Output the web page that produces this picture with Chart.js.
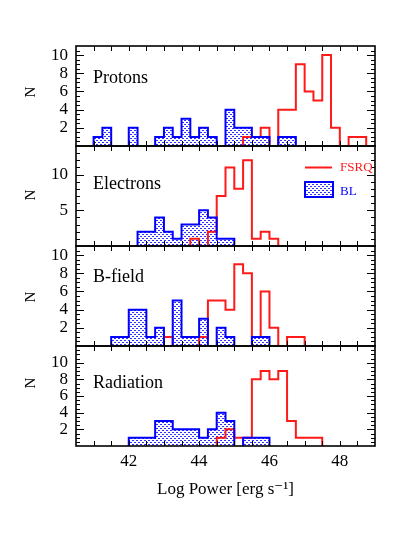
<!DOCTYPE html>
<html>
<head>
<meta charset="utf-8">
<script src="https://cdn.jsdelivr.net/npm/chart.js@4/dist/chart.umd.min.js"></script>
<style>
  html, body { margin: 0; padding: 0; background: #fff; }
  #wrap { position: relative; width: 409px; height: 545px; background: #fff; overflow: hidden; }
  canvas { position: absolute; left: 0; }
</style>
</head>
<body>
<div id="wrap">
  <canvas id="p0" width="409" height="104" style="top:44px"></canvas>
  <canvas id="p1" width="409" height="104" style="top:144px"></canvas>
  <canvas id="p2" width="409" height="104" style="top:244px"></canvas>
  <canvas id="p3" width="409" height="166" style="top:344px"></canvas>
</div>
<script>
/* ── Data ── */
// left edge of each 0.25-dex bin
const BIN_LO = [41.0, 41.25, 41.5, 41.75, 42.0, 42.25, 42.5, 42.75, 43.0, 43.25, 43.5,
                43.75, 44.0, 44.25, 44.5, 44.75, 45.0, 45.25, 45.5, 45.75, 46.0, 46.25,
                46.5, 46.75, 47.0, 47.25, 47.5, 47.75, 48.0, 48.25, 48.5];
const BIN_WIDTH = 0.25;

const PROTONS_BL   = [1, 2, 0, 0, 2, 0, 0, 1, 2, 1, 3, 1, 2, 1, 0, 4, 2, 2, 1, 1, 0, 1, 1, 0, 0, 0, 0, 0, 0, 0, 0];
const PROTONS_FSRQ = [0, 0, 0, 0, 0, 0, 0, 0, 0, 0, 0, 0, 0, 0, 0, 0, 0, 1, 1, 2, 0, 4, 4, 9, 6, 5, 10, 2, 0, 1, 1];

const ELECTRONS_BL   = [0, 0, 0, 0, 0, 2, 2, 4, 2, 1, 3, 3, 5, 4, 1, 1, 0, 0, 0, 0, 0, 0, 0, 0, 0, 0, 0, 0, 0, 0, 0];
const ELECTRONS_FSRQ = [0, 0, 0, 0, 0, 0, 0, 0, 0, 0, 0, 1, 0, 2, 7, 11, 8, 12, 1, 2, 1, 0, 0, 0, 0, 0, 0, 0, 0, 0, 0];

const BFIELD_BL   = [0, 0, 1, 1, 4, 4, 1, 2, 0, 5, 1, 1, 3, 0, 2, 1, 0, 0, 1, 1, 0, 0, 0, 0, 0, 0, 0, 0, 0, 0, 0];
const BFIELD_FSRQ = [0, 0, 0, 0, 0, 0, 0, 0, 1, 0, 0, 0, 1, 5, 5, 4, 9, 8, 1, 6, 2, 0, 1, 1, 0, 0, 0, 0, 0, 0, 0];

const RADIATION_BL   = [0, 0, 0, 0, 1, 1, 1, 3, 3, 2, 2, 2, 1, 2, 4, 3, 0, 1, 1, 1, 0, 0, 0, 0, 0, 0, 0, 0, 0, 0, 0];
const RADIATION_FSRQ = [0, 0, 0, 0, 0, 0, 0, 0, 0, 0, 0, 0, 0, 0, 1, 2, 1, 1, 8, 9, 8, 9, 3, 1, 1, 1, 0, 0, 0, 0, 0];

const PANEL_NAMES = ['Protons', 'Electrons', 'B-field', 'Radiation'];
const Y_MAX = [11, 14, 11, 12];
const Y_LABELS = [[2, 4, 6, 8, 10], [5, 10], [2, 4, 6, 8, 10], [2, 4, 6, 8, 10]];
const X_LABELS = [42, 44, 46, 48];
const X_RANGE = [40.5, 49];

/* ── Look ── */
const RED = '#ff1a1a';
const BLUE = '#0000ff';
const SERIF = "'Liberation Serif', 'DejaVu Serif', serif";

function dotPattern() {
  const c = document.createElement('canvas');
  c.width = 4; c.height = 4;
  const g = c.getContext('2d');
  g.fillStyle = '#ffffff';
  g.fillRect(0, 0, 4, 4);
  g.fillStyle = '#3030ff';
  g.fillRect(0, 0, 2, 1);
  g.fillRect(2, 2, 2, 1);
  return g.createPattern(c, 'repeat');
}
const DOTS = dotPattern();

/* histogram outline: runs of non-empty bins, broken by gaps */
function stepPoints(counts) {
  const pts = [];
  counts.forEach((c, i) => {
    if (c <= 0) return;
    const lo = BIN_LO[i], hi = lo + BIN_WIDTH;
    if (!(i > 0 && counts[i - 1] > 0)) pts.push({ x: lo, y: 0 });
    pts.push({ x: lo, y: c }, { x: hi, y: c });
    if (!(i < counts.length - 1 && counts[i + 1] > 0)) pts.push({ x: hi, y: 0 }, { x: hi, y: null });
  });
  return pts;
}

/* ── Frame, inward ticks, panel text ── */
const panelDecor = {
  id: 'panelDecor',
  afterDatasetsDraw(chart, args, o) {
    const { ctx, chartArea: a } = chart;
    const xs = chart.scales.x, ys = chart.scales.y;
    ctx.save();
    ctx.strokeStyle = '#000';
    ctx.lineWidth = 1;
    ctx.beginPath();
    for (let v = 41; v < xs.max - 0.01; v += 0.5) {
      const px = Math.round(xs.getPixelForValue(v)) + 0.5;
      ctx.moveTo(px, a.bottom); ctx.lineTo(px, a.bottom - 5);
      ctx.moveTo(px, a.top); ctx.lineTo(px, a.top + 5);
    }
    for (let v = o.yMinor; v < ys.max - 0.01; v += o.yMinor) {
      const py = Math.round(ys.getPixelForValue(v)) + 0.5;
      const r = v / o.yMajor;
      const len = Math.abs(r - Math.round(r)) < 1e-6 ? 8 : 4;
      ctx.moveTo(a.left, py); ctx.lineTo(a.left + len, py);
      ctx.moveTo(a.right, py); ctx.lineTo(a.right - len, py);
    }
    ctx.stroke();

    ctx.lineWidth = 1.6;
    ctx.strokeRect(a.left, a.top, a.right - a.left, a.bottom - a.top);

    ctx.fillStyle = '#000';
    ctx.font = '18px ' + SERIF;
    ctx.textAlign = 'left';
    ctx.textBaseline = 'alphabetic';
    ctx.fillText(o.name, a.left + 17, a.top + o.nameDy);

    ctx.save();
    ctx.translate(31.5, a.top + o.nDy);
    ctx.rotate(-Math.PI / 2);
    ctx.font = '15px ' + SERIF;
    ctx.textAlign = 'center';
    ctx.textBaseline = 'middle';
    ctx.fillText('N', 0, 0);
    ctx.restore();

    if (o.legend) {
      const lx = a.right - 70;
      ctx.strokeStyle = RED;
      ctx.lineWidth = 2;
      ctx.beginPath();
      ctx.moveTo(lx, a.top + 21.5); ctx.lineTo(lx + 27, a.top + 21.5);
      ctx.stroke();
      ctx.fillStyle = DOTS;
      ctx.fillRect(lx, a.top + 36, 28, 15);
      ctx.strokeStyle = BLUE;
      ctx.strokeRect(lx, a.top + 36, 28, 15);
      ctx.font = '13px ' + SERIF;
      ctx.textBaseline = 'middle';
      ctx.fillStyle = RED;
      ctx.fillText('FSRQ', lx + 35, a.top + 21.5);
      ctx.fillStyle = BLUE;
      ctx.fillText('BL', lx + 35, a.top + 46);
    }
    ctx.restore();
  }
};

/* ── Panels ── */
const PANELS = [
  { bl: PROTONS_BL, fsrq: PROTONS_FSRQ, nameDy: 37, nDy: 46, yMinor: 0.5, yMajor: 2 },
  { bl: ELECTRONS_BL, fsrq: ELECTRONS_FSRQ, nameDy: 43, nDy: 49, yMinor: 1, yMajor: 5, legend: true },
  { bl: BFIELD_BL, fsrq: BFIELD_FSRQ, nameDy: 36, nDy: 51, yMinor: 0.5, yMajor: 2 },
  { bl: RADIATION_BL, fsrq: RADIATION_FSRQ, nameDy: 42, nDy: 37, yMinor: 0.5, yMajor: 2 },
];

function renderPanel(i) {
  const p = PANELS[i];
  const last = i === PANELS.length - 1;
  const blPts = stepPoints(p.bl);
  const fsrqPts = stepPoints(p.fsrq);

  new Chart(document.getElementById('p' + i), {
    type: 'line',
    data: {
      datasets: [
        { label: 'BL', data: blPts, borderColor: BLUE, borderWidth: 2, fill: false,
          pointRadius: 0, spanGaps: false, order: 0 },
        { label: 'FSRQ', data: fsrqPts, borderColor: RED, borderWidth: 2, fill: false,
          pointRadius: 0, spanGaps: false, order: 1 },
        { label: 'BL fill', data: blPts, borderWidth: 0, borderColor: 'rgba(0,0,0,0)',
          backgroundColor: DOTS, fill: 'origin', pointRadius: 0, spanGaps: false, order: 2 },
      ]
    },
    options: {
      responsive: false,
      animation: false,
      events: [],
      layout: { autoPadding: false, padding: { left: 0, right: 34, top: 2, bottom: last ? 0 : 2 } },
      plugins: {
        legend: { display: false },
        tooltip: { enabled: false },
        panelDecor: { name: PANEL_NAMES[i], ...p }
      },
      scales: {
        x: {
          type: 'linear',
          min: X_RANGE[0],
          max: X_RANGE[1],
          display: last,
          grid: { display: false, drawTicks: false },
          border: { display: false },
          afterBuildTicks: s => { s.ticks = X_LABELS.map(v => ({ value: v })); },
          afterFit: s => {
            s.height = last ? 64 : 0;
            s.paddingLeft = 0; s.paddingRight = 0;
          },
          ticks: { color: '#000', font: { family: SERIF, size: 17 }, padding: 5,
                   autoSkip: false, maxRotation: 0 },
          title: { display: true, text: 'Log Power [erg s\u207B\u00B9]', color: '#000',
                   font: { family: SERIF, size: 17 }, padding: { top: 0, bottom: 10 } }
        },
        y: {
          min: 0,
          max: Y_MAX[i],
          grid: { display: false, drawTicks: false },
          border: { display: false },
          afterBuildTicks: s => { s.ticks = Y_LABELS[i].map(v => ({ value: v })); },
          afterFit: s => {
            s.width = 76;
            s.paddingTop = 0; s.paddingBottom = 0;
          },
          ticks: { color: '#000', font: { family: SERIF, size: 17 }, padding: 8, autoSkip: false }
        }
      }
    },
    plugins: [panelDecor]
  });
}

PANELS.forEach((_, i) => renderPanel(i));
</script>
</body>
</html>
